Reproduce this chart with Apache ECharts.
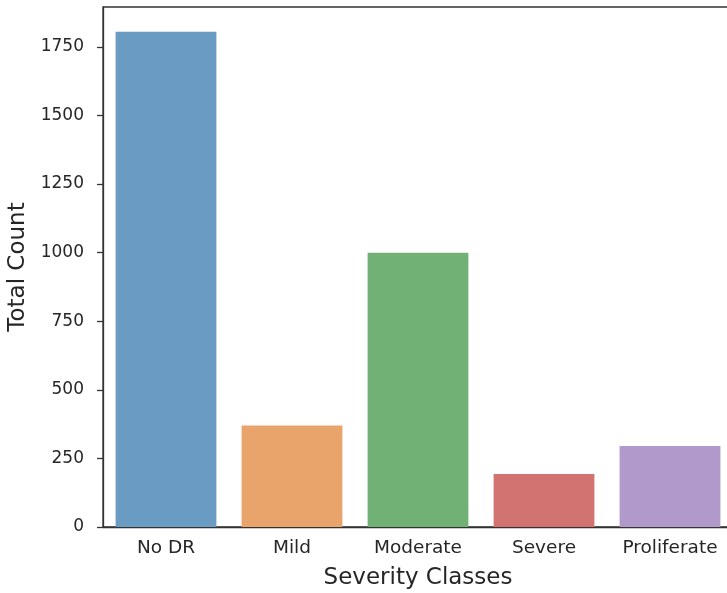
<!DOCTYPE html>
<html>
<head>
<meta charset="utf-8">
<script src="https://cdn.jsdelivr.net/npm/echarts@6/dist/echarts.min.js"></script>
<style>html,body{margin:0;padding:0;background:#fff}#c{width:727px;height:593px}</style>
</head>
<body>
<div id="c"></div>
<script>
const categories = ["No DR", "Mild", "Moderate", "Severe", "Proliferate"];
const counts = [1805, 370, 999, 193, 295];
const barColors = ["#6a9bc3", "#e9a46b", "#72b175", "#d27271", "#b19acb"];
const yTicks = [0, 250, 500, 750, 1000, 1250, 1500, 1750];
const yMax = 1895;

const chart = echarts.init(document.getElementById('c'), null, {renderer: 'canvas'});
const font = "DejaVu Sans";
chart.setOption({
  animation: false,
  backgroundColor: '#fff',
  grid: {left: 103, top: 7, width: 630, height: 520, show: true, borderColor: '#333', borderWidth: 1.3,
         backgroundColor: 'transparent', outerBoundsMode: 'none', containLabel: false},
  xAxis: {
    type: 'category',
    data: categories,
    name: 'Severity Classes',
    nameLocation: 'middle',
    nameGap: 40,
    nameTextStyle: {fontFamily: font, fontSize: 23, color: '#262626'},
    axisLine: {lineStyle: {color: '#333', width: 1.3}},
    axisTick: {alignWithLabel: true, length: 6, lineStyle: {color: '#333', width: 1.3}},
    axisLabel: {fontFamily: font, fontSize: 18.5, color: '#262626', margin: 12}
  },
  yAxis: {
    type: 'value',
    min: 0,
    max: yMax,
    interval: 250,
    name: 'Total Count',
    nameLocation: 'middle',
    nameGap: 72,
    nameTextStyle: {fontFamily: font, fontSize: 23, color: '#262626'},
    splitLine: {show: false},
    axisLine: {show: true, lineStyle: {color: '#333', width: 1.3}},
    axisTick: {show: true, length: 6, customValues: yTicks, lineStyle: {color: '#333', width: 1.3}},
    axisLabel: {fontFamily: font, fontSize: 17, color: '#262626', margin: 19, customValues: yTicks,
                formatter: v => String(v)}
  },
  series: [{
    type: 'bar',
    data: counts.map((v, i) => ({value: v, itemStyle: {color: barColors[i]}})),
    barCategoryGap: '20%'
  }]
});
</script>
</body>
</html>
